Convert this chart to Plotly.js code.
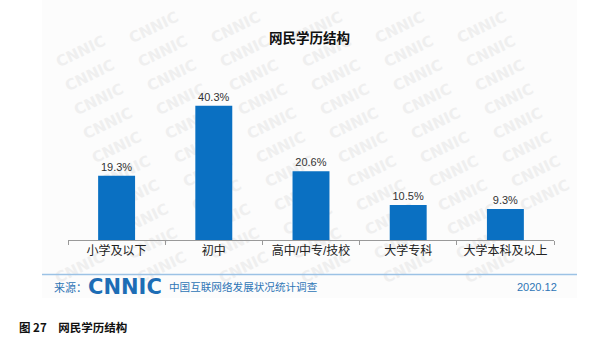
<!DOCTYPE html>
<html>
<head>
<meta charset="utf-8">
<script src="https://cdn.plot.ly/plotly-3.0.1.min.js"></script>
<style>
html,body{margin:0;padding:0;background:#fff;}
#wrap{position:relative;width:600px;height:355px;overflow:hidden;}
#panel{position:absolute;left:42px;top:0;width:535px;height:298px;background:#fcfcfc;overflow:hidden;}
#panel span{position:absolute;font-family:"DejaVu Sans",sans-serif;font-size:15px;font-weight:bold;color:#efefef;transform:translate(-50%,-50%) rotate(-26deg);white-space:nowrap;line-height:1;}
#chart{position:absolute;left:0;top:0;width:600px;height:355px;}
</style>
</head>
<body>
<div id="wrap">
<div id="panel"></div>
<div id="chart"></div>
</div>
<script>
const categories = ["小学及以下", "初中", "高中/中专/技校", "大学专科", "大学本科及以上"];
const values = [19.3, 40.3, 20.6, 10.5, 9.3];
const valueLabels = ["19.3%", "40.3%", "20.6%", "10.5%", "9.3%"];
const chartTitle = "网民学历结构";
const sourceLabel = "来源：";
const logoText = "CNNIC";
const sourceText = "中国互联网络发展状况统计调查";
const dateText = "2020.12";
const captionText = "图 27　网民学历结构";
const watermarkText = "CNNIC";

// background watermark (decorative, behind the chart), kept fully inside the panel
const panel = document.getElementById("panel");
for (let r = 0; r < 12; r++) {
  for (let c = -3; c < 9; c++) {
    const cx = 30 + c * 82 + r * 9;
    const cy = 28 + r * 24;
    if (cx < 32 || cx > 535 - 32 || cy < 20 || cy > 298 - 20) continue;
    const s = document.createElement("span");
    s.textContent = watermarkText;
    s.style.left = cx + "px";
    s.style.top = cy + "px";
    panel.appendChild(s);
  }
}

const W = 600, H = 355;
const M = {l: 68, r: 46, t: 100, b: 115};
const pw = W - M.l - M.r, ph = H - M.t - M.b;
const px = x => (x - M.l) / pw;
const py = y => (H - M.b - y) / ph;

const FONT = "Liberation Sans, Noto Sans CJK SC, sans-serif";
const BLUE = "#2e75b6";

const annotations = [
  {xref: "paper", yref: "paper", x: px(52), y: py(287), xanchor: "left", yanchor: "middle",
   text: sourceLabel, showarrow: false, font: {family: FONT, size: 11, color: BLUE}},
  {xref: "paper", yref: "paper", x: px(86), y: py(287), xanchor: "left", yanchor: "middle",
   text: "<b>" + logoText + "</b>", showarrow: false, font: {family: "DejaVu Sans, sans-serif", size: 21, color: "#1d6db5"}},
  {xref: "paper", yref: "paper", x: px(167), y: py(287), xanchor: "left", yanchor: "middle",
   text: sourceText, showarrow: false, font: {family: FONT, size: 10.6, color: BLUE}},
  {xref: "paper", yref: "paper", x: px(559), y: py(287), xanchor: "right", yanchor: "middle",
   text: dateText, showarrow: false, font: {family: FONT, size: 11, color: BLUE}},
  {xref: "paper", yref: "paper", x: px(17), y: py(327), xanchor: "left", yanchor: "middle",
   text: "<b>" + captionText + "</b>", showarrow: false, font: {family: "Noto Sans CJK SC, sans-serif", size: 11.5, color: "#111"}},
  {xref: "paper", yref: "paper", x: px(309), y: py(37), xanchor: "center", yanchor: "middle",
   text: "<b>" + chartTitle + "</b>", showarrow: false, font: {family: "Noto Sans CJK SC, sans-serif", size: 13.5, color: "#111"}}
];

const trace = {
  type: "bar",
  x: categories,
  y: values,
  text: valueLabels,
  textposition: "outside",
  cliponaxis: false,
  textfont: {family: FONT, size: 11, color: "#333"},
  marker: {color: "#0a70c2", line: {width: 0}},
  hoverinfo: "none"
};

const layout = {
  width: W, height: H,
  margin: M,
  paper_bgcolor: "rgba(0,0,0,0)",
  plot_bgcolor: "rgba(0,0,0,0)",
  showlegend: false,
  bargap: 0.62,
  xaxis: {
    type: "category",
    showline: true, linecolor: "#999", linewidth: 1,
    ticks: "outside", tickson: "boundaries", ticklen: 4, tickcolor: "#999",
    showgrid: false, zeroline: false,
    tickfont: {family: FONT, size: 12, color: "#222"},
    fixedrange: true
  },
  yaxis: {
    range: [0, 42], visible: false, showgrid: false, zeroline: false, fixedrange: true
  },
  shapes: [
    {type: "line", xref: "paper", yref: "paper", x0: px(42), x1: px(577), y0: py(274.5), y1: py(274.5),
     line: {color: "#9cc2e5", width: 1.5}}
  ],
  annotations: annotations
};

Plotly.newPlot("chart", [trace], layout, {displayModeBar: false, staticPlot: true});
</script>
</body>
</html>
